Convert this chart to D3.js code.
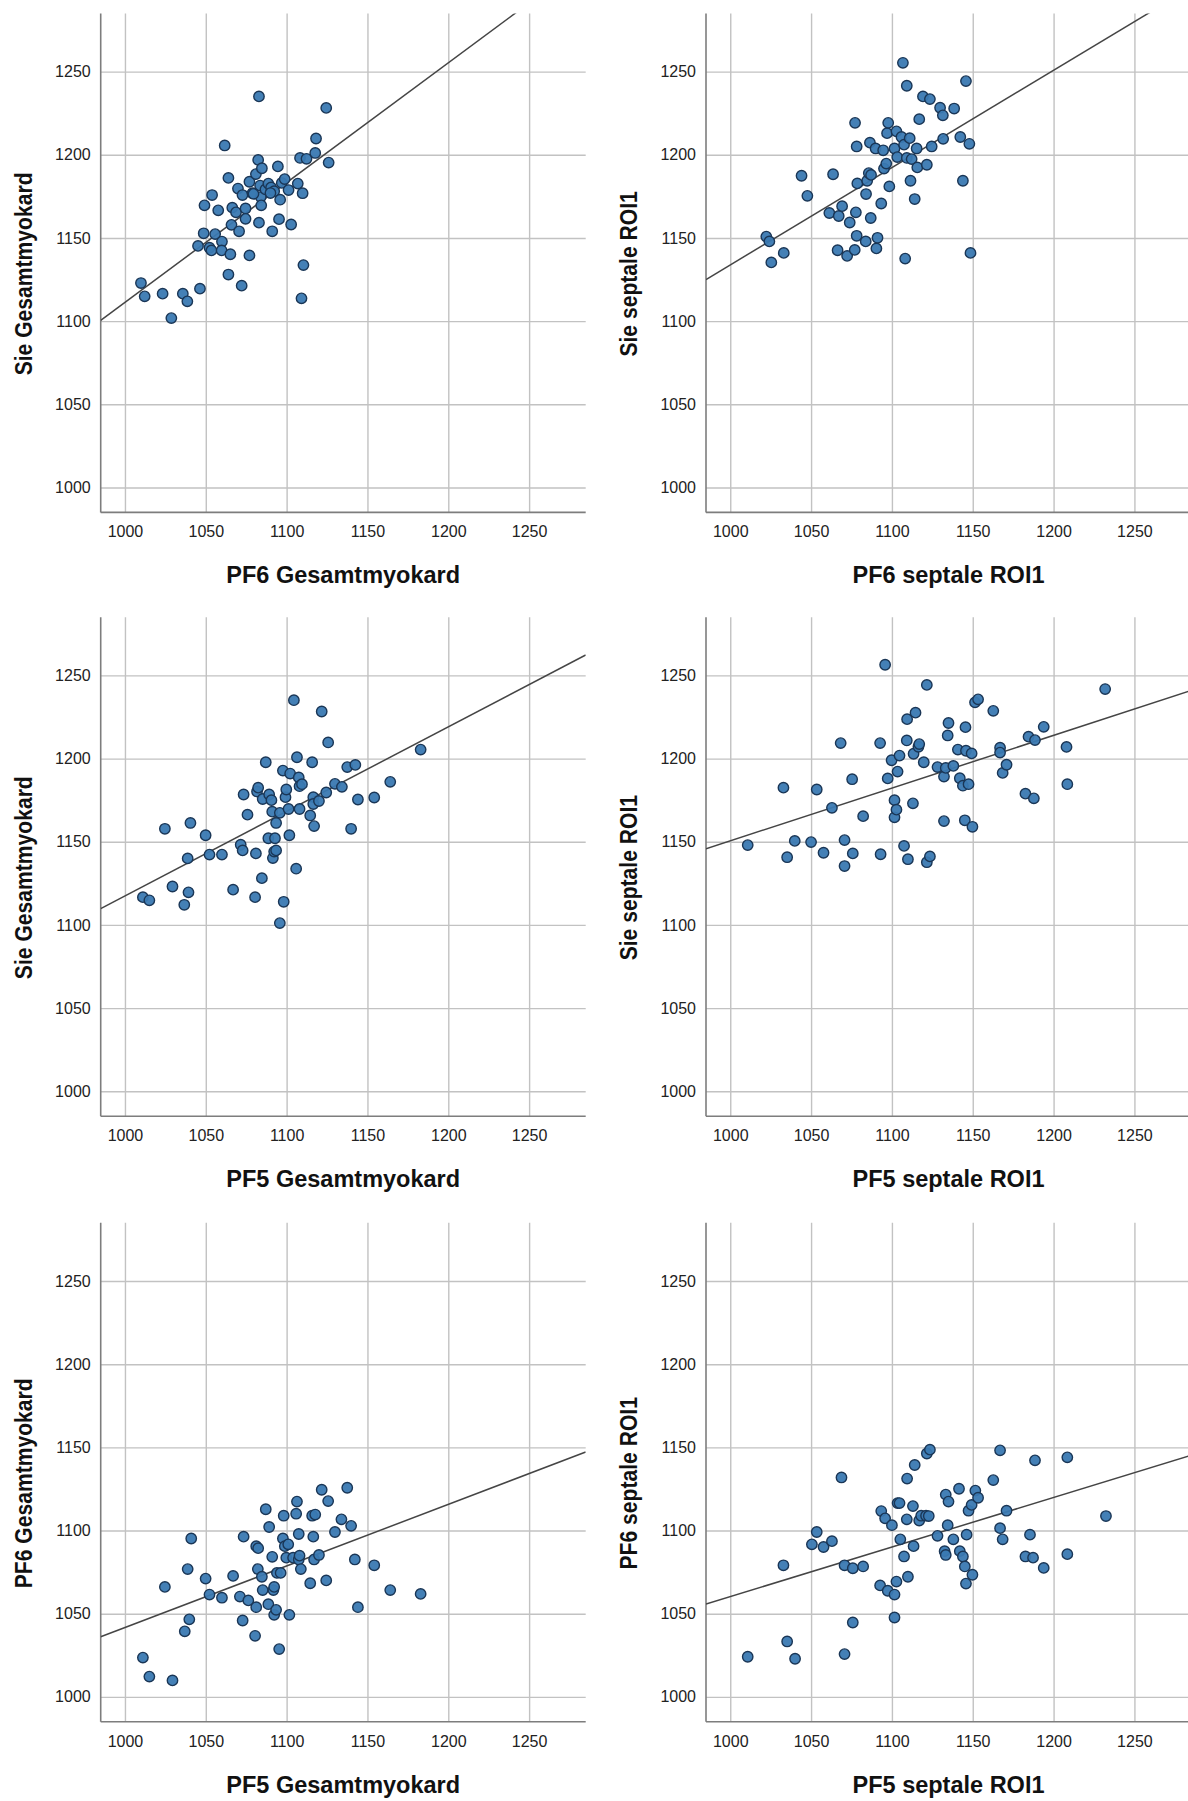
<!DOCTYPE html>
<html>
<head>
<meta charset="utf-8">
<script src="https://cdn.jsdelivr.net/npm/d3@7"></script>
<style>
  html, body { margin: 0; padding: 0; background: #fff; }
  svg { display: block; }
  text { font-family: "Liberation Sans", Arial, sans-serif; }
</style>
</head>
<body>
<svg id="chart" width="1188" height="1801"></svg>
<script>
// Axis settings shared by all six scatter plots
const axisDomain = [985, 1285];
const tickValues = [1000, 1050, 1100, 1150, 1200, 1250];

const xTitles = ["PF6 Gesamtmyokard", "PF6 septale ROI1", "PF5 Gesamtmyokard",
                 "PF5 septale ROI1", "PF5 Gesamtmyokard", "PF5 septale ROI1"];
const yTitles = ["Sie Gesamtmyokard", "Sie septale ROI1", "Sie Gesamtmyokard",
                 "Sie septale ROI1", "PF6 Gesamtmyokard", "PF6 septale ROI1"];

// Fit line: value at the left and right end of the x domain
const fitAtStart = [1100.5, 1125.0, 1109.8, 1145.8, 1036.1, 1055.8];
const fitAtEnd   = [1316.5, 1300.5, 1262.3, 1240.9, 1147.2, 1145.2];

// Panel 1: PF6 Gesamtmyokard vs Sie Gesamtmyokard
const p1X = [1009.9,1012.2,1023.3,1035.8,1038.6,1028.7,1046.4,1045.2,1049.2,1053.9,1048.7,1052.3,1053.5,1055.8,1057.7,1060.0,1059.8,1061.7,1064.0,1065.2,1064.0,1065.9,1066.4,1068.7,1069.9,1070.6,1072.2,1072.7,1074.6,1074.6,1077.0,1077.0,1078.9,1081.0,1082.4,1082.9,1082.9,1083.6,1084.0,1084.3,1084.7,1086.9,1088.7,1090.4,1091.1,1092.3,1094.6,1095.3,1096.0,1097.0,1098.8,1101.2,1102.8,1106.9,1108.3,1109.9,1110.4,1109.2,1112.3,1117.7,1118.2,1124.5,1126.0,1079.5,1090.0];
const p1Y = [1122.9,1114.9,1116.5,1116.5,1111.9,1101.8,1119.5,1145.2,1169.6,1175.8,1152.8,1144.1,1142.5,1152.3,1166.6,1147.8,1142.5,1205.6,1186.1,1140.2,1128.0,1157.9,1168.2,1165.4,1179.7,1154.0,1121.3,1175.8,1167.7,1161.5,1139.5,1183.8,1176.9,1188.4,1196.9,1235.1,1159.2,1181.5,1174.6,1169.6,1191.9,1179.2,1182.7,1180.4,1154.0,1178.1,1193.0,1161.3,1173.0,1183.1,1185.4,1178.8,1158.1,1182.7,1198.1,1176.9,1133.7,1113.7,1197.6,1201.1,1209.8,1228.2,1195.3,1176.5,1177.0];

// Panel 2: PF6 septale ROI1 vs Sie septale ROI1
const p2X = [1022.3,1024.2,1025.4,1033.1,1044.1,1047.7,1061.3,1063.6,1067.1,1066.4,1069.2,1072.3,1073.9,1077.0,1077.7,1077.2,1078.2,1078.6,1078.2,1083.8,1084.0,1084.7,1085.7,1086.4,1086.9,1087.1,1090.4,1091.1,1089.9,1093.4,1094.6,1095.1,1096.5,1097.0,1097.7,1098.4,1101.6,1102.8,1103.3,1105.9,1106.8,1107.5,1108.2,1109.2,1109.2,1111.0,1111.5,1112.2,1114.1,1115.3,1115.7,1116.9,1119.2,1121.6,1123.5,1124.6,1129.8,1131.5,1131.7,1138.5,1142.3,1143.9,1145.8,1147.9,1148.6];
const p2Y = [1150.8,1147.9,1135.3,1141.0,1187.4,1175.3,1165.0,1188.3,1163.2,1142.6,1169.1,1139.2,1159.3,1142.8,1165.4,1219.2,1205.0,1182.8,1151.3,1147.9,1176.4,1184.4,1189.0,1207.3,1162.0,1187.9,1143.7,1150.1,1203.8,1170.7,1202.7,1191.7,1194.7,1213.0,1219.2,1181.0,1203.8,1214.1,1198.6,1210.7,1255.3,1206.1,1137.6,1241.5,1198.1,1210.0,1184.4,1197.4,1173.4,1203.8,1192.4,1221.4,1235.1,1194.0,1233.5,1205.0,1228.3,1223.7,1209.6,1227.8,1210.7,1184.4,1244.3,1206.6,1141.0];

// Panel 3: PF5 Gesamtmyokard vs Sie Gesamtmyokard
const p3X = [1011.1,1015.1,1024.7,1029.4,1036.7,1038.8,1039.3,1040.5,1049.9,1052.3,1060.0,1066.9,1071.6,1072.8,1073.4,1075.8,1080.5,1081.0,1081.7,1082.4,1084.7,1085.2,1087.1,1088.7,1089.2,1090.6,1091.1,1091.5,1092.3,1092.8,1093.5,1093.5,1095.8,1095.8,1098.2,1097.7,1099.3,1099.8,1101.2,1101.7,1102.2,1105.9,1106.4,1104.5,1107.5,1108.0,1108.0,1109.5,1114.6,1115.8,1116.5,1116.5,1117.0,1120.0,1121.7,1124.5,1125.7,1129.9,1134.2,1137.5,1142.5,1139.9,1144.1,1154.2,1164.1,1182.9];
const p3Y = [1116.7,1114.8,1157.8,1123.1,1112.1,1140.0,1119.6,1161.3,1153.9,1142.3,1142.3,1121.2,1148.2,1144.8,1178.4,1166.3,1116.7,1143.0,1180.2,1182.5,1128.1,1175.7,1197.8,1152.1,1178.4,1175.0,1168.1,1140.2,1144.1,1152.1,1161.3,1144.8,1167.4,1101.1,1113.9,1192.8,1176.8,1181.4,1169.7,1153.9,1191.0,1133.8,1200.8,1235.1,1188.7,1169.7,1183.4,1184.6,1165.8,1197.8,1176.8,1172.7,1159.4,1174.5,1228.3,1179.6,1209.7,1184.8,1183.0,1194.9,1196.2,1157.8,1175.4,1176.6,1186.0,1205.4];

// Panel 4: PF5 septale ROI1 vs Sie septale ROI1
const p4X = [1010.8,1032.9,1035.2,1039.9,1050.0,1053.5,1057.7,1062.9,1068.3,1070.7,1070.7,1075.4,1075.8,1082.2,1092.7,1093.0,1097.4,1099.8,1101.6,1101.6,1102.8,1103.5,1104.7,1107.5,1109.2,1109.4,1109.9,1113.0,1113.4,1114.6,1116.4,1116.9,1119.7,1121.6,1121.6,1123.5,1128.2,1132.2,1132.2,1133.3,1134.5,1135.0,1138.0,1140.8,1142.0,1143.9,1145.5,1145.1,1145.8,1147.4,1149.3,1149.8,1151.4,1153.3,1162.7,1166.9,1166.9,1168.5,1170.9,1182.6,1184.5,1187.8,1188.5,1193.9,1208.0,1208.5,1231.9,1095.8];
const p4Y = [1148.0,1182.5,1140.7,1150.5,1149.8,1181.4,1143.4,1170.4,1209.3,1151.0,1135.4,1187.6,1143.0,1165.4,1209.3,1142.5,1188.1,1199.0,1175.0,1164.7,1169.3,1192.2,1201.8,1147.5,1210.9,1223.7,1139.5,1173.1,1202.9,1227.6,1207.1,1208.7,1197.8,1244.3,1137.7,1141.2,1194.9,1189.2,1162.4,1194.4,1213.9,1221.4,1195.6,1205.4,1188.2,1183.7,1218.9,1162.9,1204.7,1184.6,1203.1,1159.0,1233.8,1235.6,1228.7,1206.5,1203.6,1191.4,1196.3,1178.9,1213.2,1176.1,1211.1,1219.1,1207.0,1184.6,1241.8,1256.4];

// Panel 5: PF5 Gesamtmyokard vs PF6 Gesamtmyokard
const p5X = [1011.1,1015.1,1029.4,1024.7,1037.0,1039.8,1038.8,1041.0,1049.9,1052.3,1060.0,1066.9,1071.1,1072.8,1073.4,1076.3,1080.5,1081.2,1081.2,1082.2,1082.4,1084.7,1085.2,1087.1,1088.7,1089.2,1091.1,1091.8,1092.3,1092.3,1093.5,1094.0,1095.4,1096.3,1097.7,1098.2,1098.9,1099.8,1101.0,1101.7,1104.0,1105.9,1106.4,1107.5,1107.5,1108.8,1108.0,1114.6,1115.8,1116.5,1117.0,1117.7,1120.0,1121.7,1124.5,1125.7,1129.9,1133.9,1137.5,1139.9,1142.2,1144.1,1154.2,1164.1,1182.9];
const p5Y = [1023.6,1012.2,1009.9,1066.1,1039.4,1046.6,1076.8,1095.2,1071.1,1061.5,1059.6,1072.7,1060.3,1045.9,1096.3,1058.0,1036.7,1053.9,1090.6,1076.8,1089.4,1072.2,1064.2,1112.8,1055.7,1102.1,1084.2,1064.2,1066.1,1049.3,1052.3,1074.5,1028.7,1074.5,1095.2,1108.9,1090.6,1083.7,1091.7,1049.3,1083.7,1110.1,1117.4,1082.6,1097.9,1076.8,1084.9,1068.3,1108.9,1096.3,1082.6,1109.6,1085.3,1124.5,1070.0,1117.7,1099.1,1106.7,1125.7,1102.8,1082.6,1053.9,1079.1,1064.2,1061.9];

// Panel 6: PF5 septale ROI1 vs PF6 septale ROI1
const p6X = [1010.8,1032.9,1035.2,1040.1,1050.5,1053.5,1057.7,1062.9,1068.8,1070.7,1070.7,1075.8,1075.8,1082.2,1092.7,1093.4,1095.8,1097.4,1100.0,1101.6,1101.6,1102.8,1103.5,1104.7,1105.2,1107.5,1109.4,1109.2,1109.9,1113.0,1114.1,1113.4,1116.9,1118.1,1121.6,1123.5,1121.1,1122.8,1128.2,1132.6,1133.3,1133.3,1134.5,1135.0,1138.0,1141.5,1142.0,1143.9,1145.1,1145.8,1146.2,1147.4,1149.3,1149.8,1151.6,1153.3,1162.7,1166.9,1166.9,1168.5,1170.9,1182.6,1185.4,1187.3,1188.5,1193.9,1208.5,1208.5,1232.4];
const p6Y = [1024.1,1079.1,1033.3,1022.9,1091.7,1099.1,1090.1,1093.6,1131.9,1079.1,1025.7,1077.3,1044.7,1078.4,1067.0,1111.7,1107.3,1063.8,1103.2,1061.5,1047.7,1069.3,1116.5,1116.5,1094.7,1084.4,1131.2,1106.7,1072.2,1114.7,1139.4,1090.6,1106.0,1108.9,1146.3,1148.6,1108.9,1108.7,1096.8,1087.6,1121.6,1085.3,1103.2,1117.4,1094.7,1125.1,1087.6,1084.4,1078.4,1068.1,1097.5,1111.9,1115.4,1073.4,1124.0,1119.7,1130.3,1148.2,1101.4,1094.7,1111.9,1084.4,1097.5,1083.7,1142.2,1077.5,1144.0,1085.8,1108.7];

const panelX = [p1X, p2X, p3X, p4X, p5X, p6X];
const panelY = [p1Y, p2Y, p3Y, p4Y, p5Y, p6Y];

// Layout of the 3 x 2 grid of plots
const colLeft = [100.7, 706];
const rowTop = [13.4, 617.2, 1222.8];
const plotW = 485;
const plotH = 499;

const svg = d3.select("#chart");

panelX.forEach((xs, i) => {
  const col = i % 2, row = Math.floor(i / 2);
  const left = colLeft[col], top = rowTop[row];
  const right = left + plotW, bottom = top + plotH;

  const x = d3.scaleLinear().domain(axisDomain).range([left, right]);
  const y = d3.scaleLinear().domain(axisDomain).range([bottom, top]);

  const g = svg.append("g").attr("class", "panel");

  const clipId = "clip" + i;
  g.append("clipPath").attr("id", clipId)
    .append("rect").attr("x", left).attr("y", top)
    .attr("width", plotW).attr("height", plotH);

  // grid lines
  const xGrid = d3.axisBottom(x).tickValues(tickValues)
    .tickSize(-plotH).tickFormat("");
  g.append("g").attr("class", "xgrid")
    .attr("transform", `translate(0,${bottom})`)
    .call(xGrid)
    .call(s => s.select(".domain").remove())
    .call(s => s.selectAll("line").attr("stroke", "#c2c2c2").attr("stroke-width", 1.4));

  const yGrid = d3.axisLeft(y).tickValues(tickValues)
    .tickSize(-plotW).tickFormat("");
  g.append("g").attr("class", "ygrid")
    .attr("transform", `translate(${left},0)`)
    .call(yGrid)
    .call(s => s.select(".domain").remove())
    .call(s => s.selectAll("line").attr("stroke", "#c2c2c2").attr("stroke-width", 1.4));

  // tick labels
  const xAxis = d3.axisBottom(x).tickValues(tickValues).tickSize(0).tickPadding(0)
    .tickFormat(d3.format("d"));
  g.append("g").attr("class", "xaxis")
    .attr("transform", `translate(0,${bottom})`)
    .call(xAxis)
    .call(s => s.select(".domain").remove())
    .call(s => s.selectAll("text")
      .attr("y", 25).attr("dy", null)
      .attr("font-size", 16).attr("fill", "#222")
      .attr("font-family", "Liberation Sans, Arial, sans-serif"));

  const yAxis = d3.axisLeft(y).tickValues(tickValues).tickSize(0).tickPadding(10)
    .tickFormat(d3.format("d"));
  g.append("g").attr("class", "yaxis")
    .attr("transform", `translate(${left},0)`)
    .call(yAxis)
    .call(s => s.select(".domain").remove())
    .call(s => s.selectAll("text")
      .attr("font-size", 16).attr("fill", "#222")
      .attr("font-family", "Liberation Sans, Arial, sans-serif"));

  // axis lines (left and bottom)
  g.append("line").attr("x1", left).attr("x2", left)
    .attr("y1", top).attr("y2", bottom)
    .attr("stroke", "#7d7d7d").attr("stroke-width", 1.6);
  g.append("line").attr("x1", left).attr("x2", right)
    .attr("y1", bottom).attr("y2", bottom)
    .attr("stroke", "#7d7d7d").attr("stroke-width", 1.6);

  // fit line
  g.append("line")
    .attr("clip-path", `url(#${clipId})`)
    .attr("x1", x(axisDomain[0])).attr("y1", y(fitAtStart[i]))
    .attr("x2", x(axisDomain[1])).attr("y2", y(fitAtEnd[i]))
    .attr("stroke", "#454545").attr("stroke-width", 1.5);

  // points
  const pts = xs.map((v, k) => ({ x: v, y: panelY[i][k] }));
  g.append("g").attr("class", "points")
    .selectAll("circle").data(pts).join("circle")
    .attr("cx", d => x(d.x)).attr("cy", d => y(d.y)).attr("r", 5.2)
    .attr("fill", "#3a79b2").attr("fill-opacity", 0.95)
    .attr("stroke", "#1a3656").attr("stroke-width", 1.4);

  // axis titles
  g.append("text")
    .attr("x", (left + right) / 2).attr("y", bottom + 71)
    .attr("text-anchor", "middle")
    .attr("font-size", 23.5).attr("font-weight", "bold").attr("fill", "#111")
    .text(xTitles[col + row * 2]);

  const yt = g.append("text")
    .attr("transform", `translate(${left - 69},${(top + bottom) / 2 + 11}) rotate(-90)`)
    .attr("text-anchor", "middle")
    .attr("font-size", 23.5).attr("font-weight", "bold").attr("fill", "#111")
    .text(yTitles[i]);
  const natural = yt.node().getComputedTextLength();
  yt.attr("textLength", natural * 21.1 / 23.5).attr("lengthAdjust", "spacingAndGlyphs");
});
</script>
</body>
</html>
